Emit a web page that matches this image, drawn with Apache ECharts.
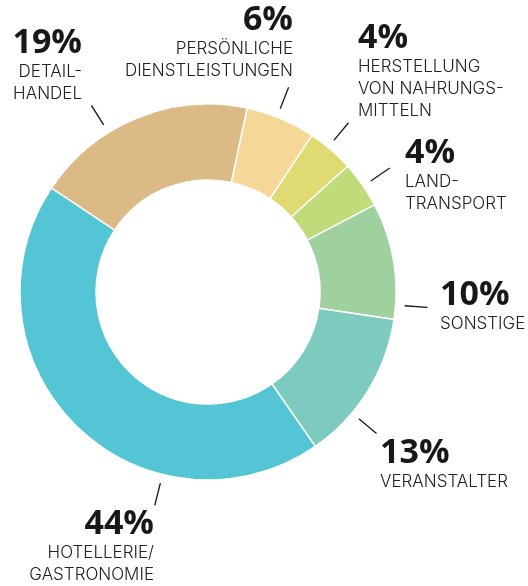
<!DOCTYPE html>
<html>
<head>
<meta charset="utf-8">
<script src="https://cdn.jsdelivr.net/npm/echarts@6/dist/echarts.min.js"></script>
<style>
  html, body { margin: 0; padding: 0; background: #fff; }
  #chart { width: 528px; height: 586px; }
</style>
</head>
<body>
<div id="chart"></div>
<script>
// slices, clockwise from the top
var categories = [
  'PERSÖNLICHE\nDIENSTLEISTUNGEN',
  'HERSTELLUNG\nVON NAHRUNGS-\nMITTELN',
  'LAND-\nTRANSPORT',
  'SONSTIGE',
  'VERANSTALTER',
  'HOTELLERIE/\nGASTRONOMIE',
  'DETAIL-\nHANDEL'
]
var shares = [6, 4, 4, 10, 13, 44, 19]
var colors = ['#f5d897', '#e0da72', '#bfdb7a', '#9fd19f', '#7dcbbe', '#54c5d5', '#dbba85']

// label placement: anchor x, top y, alignment, leader angle (deg clockwise from top)
var labelSpots = [
  { x: 293, y: 3, align: 'right', angle: 21.5 },
  { x: 358, y: 21, align: 'left', angle: 39.7 },
  { x: 405, y: 136, align: 'left', angle: 55.7 },
  { x: 440, y: 278, align: 'left', angle: 94 },
  { x: 380, y: 436, align: 'left', angle: 130 },
  { x: 154, y: 507, align: 'right', angle: 194 },
  { x: 82, y: 26, align: 'right', angle: 328 }
]

var cx = 208
var cy = 292

function polar(angle, r) {
  var a = angle * Math.PI / 180
  return [cx + r * Math.sin(a), cy - r * Math.cos(a)]
}

var chart = echarts.init(document.getElementById('chart'))
chart.setOption({
  animation: false,
  series: [
    {
      type: 'pie',
      center: [cx, cy],
      radius: [112, 188],
      startAngle: 78,
      clockwise: true,
      avoidLabelOverlap: false,
      itemStyle: {
        borderColor: '#fff',
        borderWidth: 1.5
      },
      label: {
        show: true,
        position: 'outside',
        formatter: function (p) {
          return '{pct|' + p.value + '%}\n{name|' + p.name + '}'
        },
        rich: {
          pct: {
            fontFamily: 'Open Sans',
            fontWeight: 'bold',
            fontSize: 34,
            lineHeight: 35,
            color: '#16181a'
          },
          name: {
            fontFamily: 'Inter',
            fontWeight: 300,
            fontSize: 17,
            lineHeight: 22,
            color: '#222'
          }
        }
      },
      labelLine: {
        show: true,
        lineStyle: {
          color: '#16181a',
          width: 1.3
        }
      },
      labelLayout: function (params) {
        var s = labelSpots[params.dataIndex]
        return {
          x: s.x,
          y: s.y,
          align: s.align,
          verticalAlign: 'top',
          labelLinePoints: [polar(s.angle, 197), polar(s.angle, 220)]
        }
      },
      data: categories.map(function (name, i) {
        return { name: name, value: shares[i], itemStyle: { color: colors[i] } }
      })
    }
  ]
})
</script>
</body>
</html>
